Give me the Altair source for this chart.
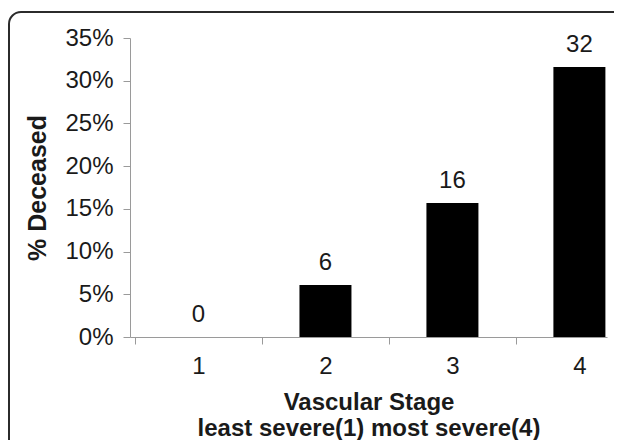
import altair as alt
import pandas as pd

# ---- data ----
stages = [1, 2, 3, 4]
pct_deceased = [0.0, 0.061, 0.157, 0.316]
bar_labels = ["0", "6", "16", "32"]
y_tick_values = [0.0, 0.05, 0.10, 0.15, 0.20, 0.25, 0.30, 0.35]
x_tick_values = [0.5, 1, 1.5, 2, 2.5, 3, 3.5, 4]
x_title = ["Vascular Stage", "least severe(1) most severe(4)"]
y_title = "% Deceased"

df = pd.DataFrame({"stage": stages, "pct": pct_deceased, "label": bar_labels})

FONT = "Liberation Sans"
AXIS_GRAY = "#9a9a9a"
TEXT = "#1a1a1a"

x_enc = alt.X(
    "stage:Q",
    scale=alt.Scale(domain=[0.5, 4.178], nice=False, zero=False),
    axis=alt.Axis(
        values=x_tick_values,
        labelExpr="datum.value % 1 === 0 ? toString(datum.value) : ''",
        tickOpacity={"condition": {"test": "datum.value % 1 === 0", "value": 0}, "value": 1},
        labelFlush=False,
        labelOverlap=False,
        grid=False,
        tickSize=7,
        tickColor=AXIS_GRAY,
        domainColor=AXIS_GRAY,
        labelFont=FONT,
        labelFontSize=24,
        labelColor=TEXT,
        labelPadding=10,
        title=x_title,
        titleFont=FONT,
        titleFontSize=24,
        titleFontWeight="bold",
        titleColor=TEXT,
        titlePadding=12,
        titleLineHeight=26,
    ),
)

y_enc = alt.Y(
    "pct:Q",
    scale=alt.Scale(domain=[0, 0.35], nice=False),
    axis=alt.Axis(
        values=y_tick_values,
        format=".0%",
        grid=False,
        tickSize=7,
        tickColor=AXIS_GRAY,
        domainColor=AXIS_GRAY,
        labelFont=FONT,
        labelFontSize=24,
        labelColor=TEXT,
        labelPadding=10,
        title=y_title,
        titleFont=FONT,
        titleFontSize=25,
        titleFontWeight="bold",
        titleColor=TEXT,
        titlePadding=14,
    ),
)

base = alt.Chart(df)

bars = base.mark_bar(color="black", size=52, clip=True).encode(x=x_enc, y=y_enc)

texts = base.mark_text(
    dy=-15, baseline="alphabetic", align="center", font=FONT, fontSize=24, color=TEXT
).encode(x="stage:Q", y="pct:Q", text="label:N")

frame = alt.Chart(alt.Data(values=[{"f": 1}])).mark_rect(
    fillOpacity=0, stroke="#2b2b2b", strokeWidth=2, cornerRadius=12, clip=False
).encode(
    x=alt.value(-121), x2=alt.value(560), y=alt.value(-26), y2=alt.value(460)
)

chart = (
    alt.layer(bars, texts, frame)
    .properties(
        width=477,
        height=299,
        autosize=alt.AutoSizeParams(type="none"),
        padding={"left": 122, "top": 30, "right": 7, "bottom": 103},
        background="white",
    )
    .configure_view(stroke=None)
)

chart.save("out.html", embed_options={"renderer": "svg", "actions": False})
